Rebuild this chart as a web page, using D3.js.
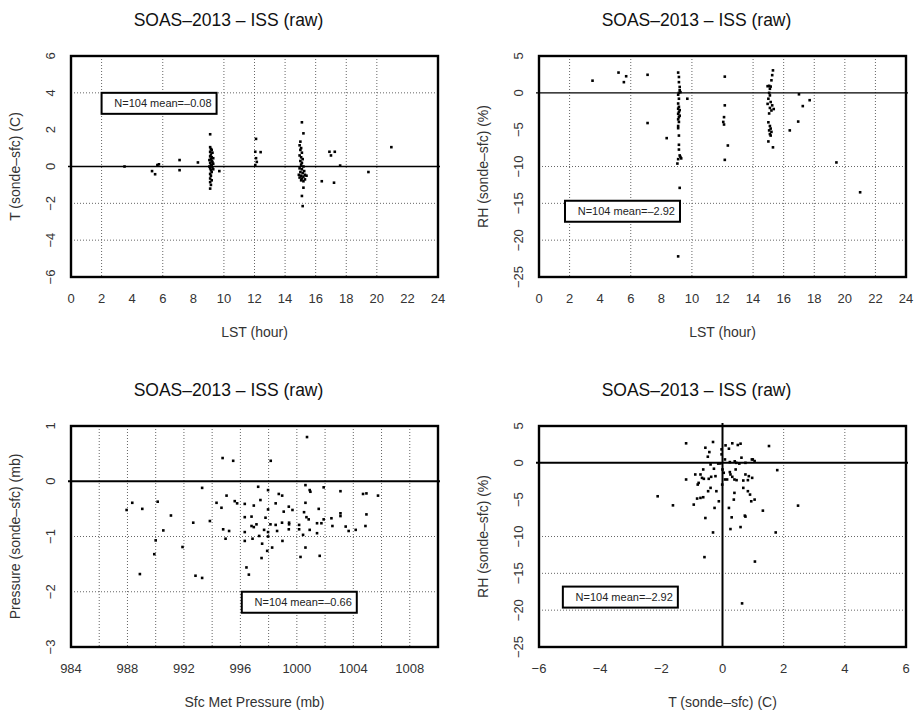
<!DOCTYPE html>
<html>
<head>
<meta charset="utf-8">
<script src="https://cdn.jsdelivr.net/npm/d3@7"></script>
<style>
	body { margin: 0; background: #fff; }
	text { font-family: "Liberation Sans", Arial, sans-serif; fill: #222; }
</style>
</head>
<body>
<svg class="theSvg" width="914" height="711"></svg>
<script>
// ---- data ----
// T (sonde-sfc) vs LST
var tLst = [
	[3.5,0.0],[5.3,-0.25],[5.5,-0.42],[5.65,0.08],[5.75,0.12],[7.1,0.35],[7.1,-0.2],[8.3,0.22],
	[9.1,1.75],[9.7,-0.25],
	[9.1,1.05],[9.15,0.95],[9.2,0.9],[9.1,0.8],[9.25,0.75],[9.15,0.65],[9.1,0.55],[9.2,0.5],
	[9.3,0.45],[9.15,0.4],[9.05,0.35],[9.2,0.3],[9.25,0.25],[9.1,0.2],[9.3,0.15],[9.15,0.1],
	[9.2,0.05],[9.05,0.0],[9.25,-0.05],[9.1,-0.1],[9.3,-0.15],[9.15,-0.2],[9.2,-0.3],[9.1,-0.4],
	[9.15,-0.5],[9.1,-0.65],[9.2,-0.75],[9.1,-0.85],[9.15,-1.0],[9.1,-1.2],
	[12.1,1.5],[12.05,0.8],[12.4,0.78],[12.1,0.45],[12.15,0.25],[12.05,0.08],
	[15.1,2.4],[15.2,1.8],[15.0,1.35],[14.95,1.15],[15.05,1.0],[15.0,0.9],[15.1,0.75],[14.95,0.6],
	[15.05,0.5],[15.15,0.4],[15.0,0.3],[15.1,0.2],[15.05,0.1],[15.2,0.0],[14.95,-0.1],[15.1,-0.15],
	[15.25,-0.25],[15.0,-0.3],[15.15,-0.35],[14.9,-0.45],[15.3,-0.45],[15.05,-0.5],[15.2,-0.55],
	[15.4,-0.5],[14.95,-0.6],[15.1,-0.65],[15.3,-0.7],[15.2,-0.8],[15.05,-0.75],[15.2,-1.15],
	[15.1,-1.6],[15.15,-2.15],
	[16.4,-0.8],[16.9,0.8],[17.0,0.6],[17.25,0.8],[17.2,-0.88],[17.6,0.05],[19.45,-0.3],[20.95,1.05]
];

// RH (sonde-sfc) vs LST
var rhLst = [
	[3.5,1.65],[5.2,2.75],[5.7,2.25],[5.55,1.45],[7.1,2.45],[7.1,-4.1],[8.35,-6.15],[9.7,-0.8],
	[9.2,-12.9],[9.1,-22.2],
	[9.1,2.75],[9.15,2.15],[9.15,1.45],[9.2,0.8],[9.2,0.35],[9.15,0.0],[9.25,0.1],[9.1,-0.25],
	[9.15,-0.8],[9.1,-1.45],[9.15,-1.9],[9.1,-2.15],[9.2,-2.35],[9.15,-2.6],[9.1,-2.85],[9.2,-3.1],
	[9.15,-3.3],[9.1,-3.6],[9.15,-3.95],[9.1,-4.5],[9.1,-4.8],[9.15,-5.8],[9.15,-7.05],[9.15,-7.7],
	[9.2,-8.5],[9.25,-8.7],[9.1,-9.0],[9.3,-8.9],[9.05,-9.6],
	[12.15,2.2],[12.15,-1.7],[12.1,-3.3],[12.05,-3.95],[12.1,-4.3],[12.35,-7.15],[12.15,-9.1],
	[15.3,3.05],[15.25,2.4],[15.2,1.7],[14.95,0.9],[15.05,0.95],[15.15,0.85],[15.1,0.55],[15.05,0.0],
	[15.1,-0.35],[15.0,-0.8],[15.15,-1.25],[14.95,-1.5],[15.25,-1.7],[15.1,-2.05],[15.35,-2.2],
	[15.2,-2.4],[15.05,-2.8],[15.0,-4.0],[15.1,-4.5],[15.15,-4.85],[15.05,-5.1],[15.2,-5.3],
	[15.1,-5.6],[15.15,-5.8],[15.0,-6.6],[15.3,-7.4],
	[16.4,-5.1],[16.95,-3.9],[17.0,-0.2],[17.25,-1.8],[17.7,-1.0],[19.45,-9.45],[21.0,-13.5]
];

// Pressure (sonde-sfc) vs Sfc Met Pressure
var pSfc = [
	[1000.72,0.80],[994.74,0.42],[995.49,0.37],[998.15,0.37],[993.29,-0.12],[997.26,-0.10],
	[997.96,-0.16],[998.72,-0.23],[998.96,-0.26],[1000.61,-0.07],[1000.91,-0.16],[1000.96,-0.19],
	[1001.9,-0.11],[1003.09,-0.18],[1004.69,-0.23],[1004.93,-0.22],[1005.75,-0.26],[987.94,-0.52],
	[988.34,-0.39],[989.05,-0.50],[990.14,-0.37],[991.08,-0.62],[990.54,-0.89],[992.66,-0.75],
	[993.84,-0.72],[994.31,-0.39],[994.66,-0.48],[995.02,-0.26],[995.6,-0.36],[995.77,-0.40],
	[994.78,-0.87],[995.2,-0.90],[994.95,-1.04],[996.31,-0.41],[996.95,-0.44],[997.42,-0.34],
	[997.96,-0.51],[998.5,-0.40],[999.43,-0.46],[999.69,-0.52],[999.07,-0.55],[1000.61,-0.39],
	[1001.55,-0.50],[1000.51,-0.56],[996.31,-0.65],[996.79,-0.64],[997.78,-0.66],[1000.68,-0.65],
	[1000.84,-0.69],[1001.9,-0.69],[1002.45,-0.67],[1003.09,-0.58],[1003.09,-0.63],[1004.93,-0.60],
	[996.79,-0.81],[996.95,-0.83],[997.14,-0.78],[997.68,-0.88],[998.13,-0.78],[998.5,-0.79],
	[998.95,-0.75],[999.45,-0.75],[999.45,-0.78],[998.6,-0.90],[999.43,-0.87],[1000.16,-0.79],
	[1000.16,-0.87],[1000.91,-0.88],[1001.43,-0.76],[1001.74,-0.76],[1002.52,-0.81],[1003.46,-0.82],
	[1003.67,-0.90],[1004.17,-0.88],[1004.86,-0.81],[996.31,-0.92],[997.33,-0.99],[997.96,-1.00],
	[997.96,-0.92],[1000.44,-0.97],[1001.43,-0.94],[996.31,-1.08],[996.86,-1.04],[998.98,-1.08],
	[997.54,-1.13],[998.25,-1.20],[997.9,-1.26],[997.5,-1.39],[1000.61,-1.20],[1000.26,-1.37],
	[1001.62,-1.35],[990.0,-1.07],[989.9,-1.32],[991.9,-1.19],[988.88,-1.68],[992.82,-1.71],
	[993.29,-1.75],[996.43,-1.56],[996.6,-1.69]
];

// RH (sonde-sfc) vs T (sonde-sfc)
var tRh = [
	[-1.19,2.65],[-0.31,2.83],[-0.56,2.05],[-0.43,1.46],[-0.48,0.83],[-0.03,1.83],[-0.03,1.15],
	[0.1,2.37],[0.21,1.92],[0.32,2.65],[0.5,2.42],[0.59,2.6],[0.62,0.7],[0.24,0.1],[0.4,0.2],
	[0.45,0.0],[0.55,-0.1],[0.99,0.46],[1.05,0.24],[1.52,2.28],[-0.07,-0.08],[-0.14,-0.1],
	[0.08,0.46],[0.75,0.0],[0.96,0.46],[-0.39,-0.22],[0.0,-0.9],[0.04,-1.35],[0.08,-2.26],
	[-0.01,-2.95],[0.24,-1.26],[0.26,-1.58],[0.32,-1.9],[0.39,-2.26],[0.46,-2.35],[0.15,-2.26],
	[0.43,-0.9],[0.75,-1.58],[0.86,-1.81],[0.97,-2.04],[0.68,-2.4],[0.83,-2.35],[-0.23,-1.81],
	[-0.37,-1.9],[-0.45,-2.17],[-0.28,-0.8],[-0.63,-0.9],[-0.72,-1.58],[-0.67,-2.04],[-0.61,-2.17],
	[-0.89,-1.58],[-1.19,-2.26],[-0.78,-2.72],[-0.81,-2.95],[-0.39,-3.4],[-0.2,-3.85],[-0.47,-3.85],
	[0.39,-4.08],[0.37,-4.99],[0.68,-3.4],[0.83,-3.85],[0.9,-4.31],[0.94,-5.22],[1.05,-4.99],
	[-0.83,-4.85],[-0.72,-4.76],[-0.63,-4.67],[-2.12,-4.54],[-1.62,-5.77],[-0.94,-5.67],
	[-0.12,-5.22],[-0.26,-6.12],[-0.56,-7.49],[0.21,-6.12],[0.3,-7.4],[0.73,-7.17],[0.75,-7.3],
	[1.32,-6.49],[2.47,-5.81],[1.79,-0.99],[0.59,-8.72],[0.26,-8.99],[-0.31,-9.45],[1.74,-9.45],
	[-0.59,-12.8],[1.06,-13.4],[0.64,-19.08]
];

// axis ticks
var hourTicks = [0,2,4,6,8,10,12,14,16,18,20,22,24];
var tTicks = [-6,-4,-2,0,2,4,6];
var rhTicks = [-25,-20,-15,-10,-5,0,5];
var presTicks = [984,988,992,996,1000,1004,1008];
var dpTicks = [-3,-2,-1,0,1];

// dotted grid lines that show in each panel
var grid1x = [2,6,10,12,14,16,18,20], grid1y = [4,-2,-4];
var grid2x = [2,6,10,14,16,18,20,22], grid2y = [-10,-15,-20];
var grid3x = [986,988,990,992,994,996,998,1000,1002,1004,1006,1008], grid3y = [-1,-2];
var grid4x = [2,4], grid4y = [-10,-15,-20];

var titleText = "SOAS\u20132013 \u2013 ISS (raw)";

var boxW = 367, boxH = 221;

var panels = [
	{data: tLst, left: 71, top: 56, xDom: [0,24], yDom: [-6,6], xTicks: hourTicks, yTicks: tTicks,
	 gx: grid1x, gy: grid1y, xLabel: "LST (hour)", yLabel: "T (sonde\u2013sfc) (C)",
	 note: "N=104 mean=\u20130.08", noteAt: [2,4], zeroX: false, zeroW: 1.3},
	{data: rhLst, left: 539, top: 56, xDom: [0,24], yDom: [-25,5], xTicks: hourTicks, yTicks: rhTicks,
	 gx: grid2x, gy: grid2y, xLabel: "LST (hour)", yLabel: "RH (sonde\u2013sfc) (%)",
	 note: "N=104 mean=\u20132.92", noteAt: [1.7,-14.65], zeroX: false, zeroW: 1.3},
	{data: pSfc, left: 71, top: 426, xDom: [984,1010], yDom: [-3,1], xTicks: presTicks, yTicks: dpTicks,
	 gx: grid3x, gy: grid3y, xLabel: "Sfc Met Pressure (mb)", yLabel: "Pressure (sonde\u2013sfc) (mb)",
	 note: "N=104 mean=\u20130.66", noteAt: [996.1,-2], zeroX: false, zeroW: 2},
	{data: tRh, left: 539, top: 426, xDom: [-6,6], yDom: [-25,5], xTicks: tTicks, yTicks: rhTicks,
	 gx: grid4x, gy: grid4y, xLabel: "T (sonde\u2013sfc) (C)", yLabel: "RH (sonde\u2013sfc) (%)",
	 note: "N=104 mean=\u20132.92", noteAt: [-5.22,-16.8], zeroX: true, zeroW: 2}
];

var theSvg = d3.select(".theSvg");
var fmt = function(d){ return String(d).replace("-", "\u2212"); };

panels.forEach(function(p){
	var x = d3.scaleLinear().domain(p.xDom).range([p.left, p.left + boxW]);
	var y = d3.scaleLinear().domain(p.yDom).range([p.top + boxH, p.top]);
	var g = theSvg.append("g");

	// title
	g.append("text")
		.attr("x", p.left + boxW/2 - 26)
		.attr("y", p.top - 30)
		.attr("text-anchor", "middle")
		.attr("font-size", "17.5px")
		.style("fill", "#111")
		.text(titleText);

	// grid
	g.selectAll(".gx").data(p.gx).enter().append("line")
		.attr("x1", function(d){ return x(d); }).attr("x2", function(d){ return x(d); })
		.attr("y1", p.top).attr("y2", p.top + boxH)
		.attr("stroke", "#666").attr("stroke-width", 1)
		.attr("stroke-dasharray", "1,2");
	g.selectAll(".gy").data(p.gy).enter().append("line")
		.attr("x1", p.left).attr("x2", p.left + boxW)
		.attr("y1", function(d){ return y(d); }).attr("y2", function(d){ return y(d); })
		.attr("stroke", "#666").attr("stroke-width", 1)
		.attr("stroke-dasharray", "1,2");

	// zero lines
	g.append("line")
		.attr("x1", p.left - 3).attr("x2", p.left + boxW + 2)
		.attr("y1", y(0)).attr("y2", y(0))
		.attr("stroke", "#000").attr("stroke-width", p.zeroW);
	if (p.zeroX){
		g.append("line")
			.attr("x1", x(0)).attr("x2", x(0))
			.attr("y1", p.top - 3).attr("y2", p.top + boxH)
			.attr("stroke", "#000").attr("stroke-width", p.zeroW);
	}

	// points
	g.selectAll(".pt").data(p.data).enter().append("rect")
		.attr("x", function(d){ return x(d[0]) - 1.3; })
		.attr("y", function(d){ return y(d[1]) - 1.3; })
		.attr("width", 2.6).attr("height", 2.6)
		.attr("fill", "#000");

	// frame
	g.append("rect")
		.attr("x", p.left).attr("y", p.top)
		.attr("width", boxW).attr("height", boxH)
		.attr("fill", "none").attr("stroke", "#000").attr("stroke-width", 2.4);

	// tick labels
	g.selectAll(".xt").data(p.xTicks).enter().append("text")
		.attr("x", function(d){ return x(d); })
		.attr("y", p.top + boxH + 25.5)
		.attr("text-anchor", "middle")
		.attr("font-size", "13px")
		.style("fill", "#333")
		.text(fmt);
	g.selectAll(".yt").data(p.yTicks).enter().append("text")
		.attr("transform", function(d){ return "translate(" + (p.left - 16) + "," + y(d) + ") rotate(-90)"; })
		.attr("text-anchor", "middle")
		.attr("font-size", "13px")
		.style("fill", "#333")
		.text(fmt);

	// axis titles
	g.append("text")
		.attr("x", p.left + boxW/2)
		.attr("y", p.top + boxH + 59.5)
		.attr("text-anchor", "middle")
		.attr("font-size", "14px")
		.style("fill", "#333")
		.text(p.xLabel);
	g.append("text")
		.attr("transform", "translate(" + (p.left - 51) + "," + (p.top + boxH/2) + ") rotate(-90)")
		.attr("text-anchor", "middle")
		.attr("font-size", "14px")
		.style("fill", "#333")
		.text(p.yLabel);

	// N / mean box
	var nx = x(p.noteAt[0]), ny = y(p.noteAt[1]);
	g.append("rect")
		.attr("x", nx).attr("y", ny)
		.attr("width", 115).attr("height", 21)
		.attr("fill", "#fff").attr("stroke", "#000").attr("stroke-width", 2);
	g.append("text")
		.attr("x", nx + 110).attr("y", ny + 14.5)
		.attr("text-anchor", "end")
		.attr("font-size", "11px")
		.text(p.note);
});
</script>
</body>
</html>
